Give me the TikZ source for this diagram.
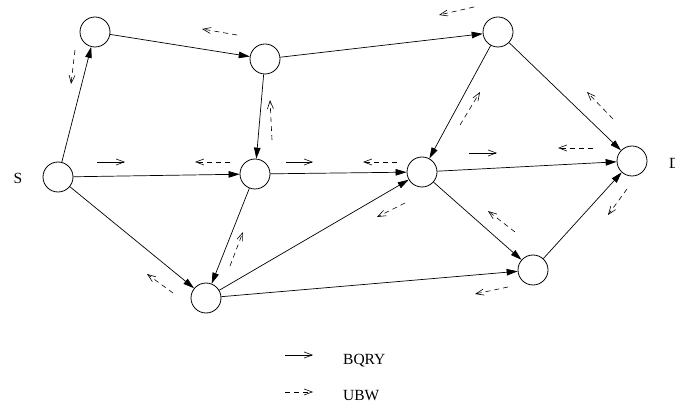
\documentclass[tikz,border=0pt]{standalone}
\usepackage{fontspec}
\setmainfont{Liberation Serif}
\usetikzlibrary{arrows.meta}
\begin{document}
\begin{tikzpicture}[x=1pt,y=-1pt,
  vert/.style={circle,draw,line width=0.8pt,minimum size=30pt,inner sep=0pt},
  edge/.style={line width=0.7pt,-{Triangle[length=11pt,width=6.5pt]}},
  bqry/.style={line width=0.6pt,-{Straight Barb[length=8pt,width=6pt,line width=0.6pt]}},
  ubw/.style={bqry,dash pattern=on 5pt off 4pt},
  lbl/.style={font=\fontsize{15.5}{18}\selectfont,inner sep=0pt}]
\useasboundingbox (0,0) rectangle (675,403);
% vertices
\node[vert] (S) at (58,177) {};
\node[vert] (A) at (95,32) {};
\node[vert] (B) at (265,59) {};
\node[vert] (C) at (498,32) {};
\node[vert] (E) at (255,174) {};
\node[vert] (F) at (422,172) {};
\node[vert] (D) at (632,161) {};
\node[vert] (G) at (206,298) {};
\node[vert] (H) at (533,270) {};
% labels
\node[lbl] (Sl) at (18,178) {S};
\node[lbl,anchor=west] (Dl) at (669,163) {D};
% edges
\draw[edge] (S) -- (A);
\draw[edge] (A) -- (B);
\draw[edge] (B) -- (C);
\draw[edge] (B) -- (E);
\draw[edge] (S) -- (E);
\draw[edge] (E) -- (F);
\draw[edge] (C) -- (F);
\draw[edge] (C) -- (D);
\draw[edge] (F) -- (D);
\draw[edge] (S) -- (G);
\draw[edge] (E) -- (G);
\draw[edge] (G) -- (F);
\draw[edge] (F) -- (H);
\draw[edge] (G) -- (H);
\draw[edge] (H) -- (D);
% BQRY arrows
\draw[bqry] (97,162) -- (125,162);
\draw[bqry] (286,162) -- (313,162);
\draw[bqry] (469,153) -- (497,153);
% UBW arrows
\draw[ubw] (75,50) -- (71,84);
\draw[ubw] (237,35) -- (202,29);
\draw[ubw] (474,7) -- (439,15);
\draw[ubw] (272,140) -- (270,100);
\draw[ubw] (230,162) -- (195,162);
\draw[ubw] (397,162) -- (363,162);
\draw[ubw] (460,125) -- (480,92);
\draw[ubw] (613,119) -- (587,92);
\draw[ubw] (593,148) -- (558,148);
\draw[ubw] (627,189) -- (608,215);
\draw[ubw] (173,293) -- (147,274);
\draw[ubw] (230,266) -- (243,232);
\draw[ubw] (405,203) -- (377,217);
\draw[ubw] (515,232) -- (488,211);
\draw[ubw] (508,287) -- (475,294);
% legend
\coordinate (l1a) at (285,355);
\coordinate (l1b) at (313,355);
\coordinate (l2a) at (285,392);
\coordinate (l2b) at (313,392);
\draw[bqry] (l1a) -- (l1b);
\draw[ubw] (l2a) -- (l2b);
\node[lbl,anchor=west] (t1) at (343,361) {BQRY};
\node[lbl,anchor=west] (t2) at (343,395.5) {UBW};
\end{tikzpicture}
\end{document}
